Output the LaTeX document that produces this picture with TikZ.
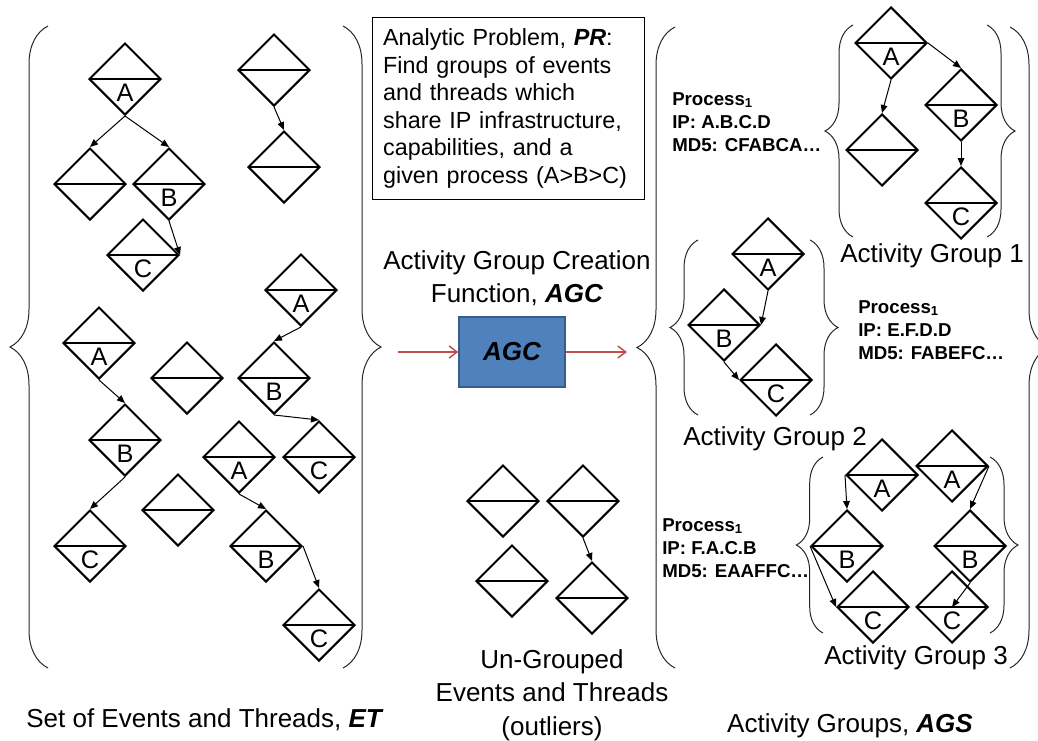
\documentclass[tikz,border=0pt]{standalone}
\usepackage{fontspec}
\setmainfont{Liberation Sans}
\usepackage{xcolor}
\usepackage{tikz}
\definecolor{agcblue}{RGB}{79,129,189}
\definecolor{agcborder}{RGB}{56,93,138}
\definecolor{flowred}{RGB}{192,80,77}
\usetikzlibrary{shapes.geometric,arrows.meta,positioning,decorations.pathreplacing}

\begin{document}
\begin{tikzpicture}[
    x=0.75pt, y=-0.75pt,
    event/.style={diamond, draw, line width=1.5pt, minimum width=54pt, minimum height=54pt, inner sep=0pt, path picture={\draw[line width=1.5pt] (path picture bounding box.west) -- (path picture bounding box.east);}, label={[font=\fontsize{19}{19}\selectfont, yshift=-10.5pt]center:#1}},
    event/.default={},
    caption/.style={font=\fontsize{19.5}{25}\selectfont, inner sep=0pt},
    process/.style={font=\fontsize{14}{17.5}\selectfont\bfseries, align=left, anchor=west, inner sep=0pt},
    link/.style={-{Triangle[length=6pt,width=5pt]}, line width=0.75pt},
    flow/.style={-{Straight Barb[length=6pt,width=9pt]}, draw=flowred, line width=1.1pt},
    curly/.style={decorate, decoration={brace, amplitude=#1}, line width=0.75pt, draw=black!85}
]
\useasboundingbox (0,0) rectangle (1038,740);

% Set of Events and Threads
\node[event=A] (a1) at (125,79) {};
\node[event] (x1) at (90,184) {};
\node[event=B] (b1) at (169,184) {};
\node[event=C] (c1) at (143,255) {};
\node[event] (e1) at (274,70) {};
\node[event] (e2) at (284,167) {};
\node[event=A] (a2) at (301,290) {};
\node[event=B] (b2) at (274,378) {};
\node[event=C] (c2) at (319,457) {};
\node[event=A] (a3) at (99,343) {};
\node[event=B] (b3) at (125,440) {};
\node[event=C] (c3) at (90,546) {};
\node[event=A] (a4) at (239,457) {};
\node[event=B] (b4) at (266,546) {};
\node[event=C] (c4) at (319,625) {};
\node[event] (x2) at (187,378) {};
\node[event] (x3) at (178,510) {};

\draw[link] (a1.south) -- (x1.north);
\draw[link] (a1.south) -- (b1.north);
\draw[link] (b1.south) -- (c1.east);
\draw[link] (e1.south) -- (e2.north);
\draw[link] (a2.south) -- (b2.north);
\draw[link] (b2.south) -- (c2.north);
\draw[link] (a3.south) -- (b3.north);
\draw[link] (b3.south) -- (c3.north);
\draw[link] (a4.south) -- (b4.north);
\draw[link] (b4.east) -- (c4.north);

\draw[curly=28.5pt] (48,668) -- (48,26);
\draw[curly=28.5pt] (343,26) -- (343,668);
\node[caption, anchor=base] (etcap) at (205,727) {Set of Events and Threads, \textbf{\textit{ET}}};

% Analytic problem and creation function
\node[draw, line width=0.75pt, anchor=north west, text width=188pt, minimum height=136.5pt, inner sep=8pt, align=left, font=\fontsize{17.5}{20.7}\selectfont] (pr) at (372,17) {Analytic Problem, \textbf{\textit{PR}}:\\Find groups of events\\and threads which\\share IP infrastructure,\\capabilities, and a\\given process (A>B>C)};
\node[caption, align=center] (agctitle) at (517,278) {Activity Group Creation\\Function, \textbf{\textit{AGC}}};
\node[draw=agcborder, fill=agcblue, line width=1.1pt, minimum width=79.5pt, minimum height=52.5pt, font=\fontsize{19.5}{24}\selectfont\bfseries\itshape] (agc) at (512,352) {AGC};
\coordinate (agcin) at (398,352);
\coordinate (agcout) at (627,352);
\draw[flow] (agcin) -- (agc);
\draw[flow] (agc) -- (agcout);

% Un-grouped events and threads
\node[event] (u1) at (503,501) {};
\node[event] (u2) at (583,501) {};
\node[event] (u3) at (512,581) {};
\node[event] (u4) at (592,598) {};
\draw[link] (u2.south) -- (u4.north);
\node[caption, align=center] (ungrouped) at (552,695) {Un-Grouped\\Events and Threads\\(outliers)};

% Activity Group 1
\node[event=A] (g1a) at (891,43) {};
\node[event] (g1x) at (882,150) {};
\node[event=B] (g1b) at (961,105) {};
\node[event=C] (g1c) at (961,203) {};
\draw[link] (g1a.south) -- (g1x.north);
\draw[link] (g1a.east) -- (g1b.north);
\draw[link] (g1b.south) -- (g1c.north);
\draw[curly=21pt] (853,237) -- (853,25);
\draw[curly=21pt] (987,25) -- (987,237);
\node[caption, anchor=base] (g1cap) at (932,262) {Activity Group 1};
\node[process] (g1proc) at (672,122) {Process\textsubscript{1}\\IP: A.B.C.D\\MD5: CFABCA…};

% Activity Group 2
\node[event=A] (g2a) at (768,254) {};
\node[event=B] (g2b) at (724,325) {};
\node[event=C] (g2c) at (776,380) {};
\draw[link] (g2a.south) -- (g2b.east);
\draw[link] (g2b.south) -- (g2c.west);
\draw[curly=21pt] (698,415) -- (698,240);
\draw[curly=21pt] (810,240) -- (810,415);
\node[caption, anchor=base] (g2cap) at (775,445) {Activity Group 2};
\node[process] (g2proc) at (858,330) {Process\textsubscript{1}\\IP: E.F.D.D\\MD5: FABEFC…};

% Activity Group 3
\node[event=A] (g3a1) at (882,475) {};
\node[event=A] (g3a2) at (952,466) {};
\node[event=B] (g3b1) at (847,546) {};
\node[event=B] (g3b2) at (970,546) {};
\node[event=C] (g3c1) at (873,607) {};
\node[event=C] (g3c2) at (952,607) {};
\draw[link] (g3a1.west) -- (g3b1.north);
\draw[link] (g3a2.east) -- (g3b2.north);
\draw[link] (g3b1.west) -- (g3c1.west);
\draw[link] (g3b2.south) -- (g3c2.center);
\draw[curly=20pt] (823,633) -- (823,457);
\draw[curly=21pt] (990,457) -- (990,633);
\node[caption, anchor=base] (g3cap) at (916,664) {Activity Group 3};
\node[process] (g3proc) at (662,548) {Process\textsubscript{1}\\IP: F.A.C.B\\MD5: EAAFFC…};

% Activity Groups
\draw[curly=28.5pt] (675,668) -- (675,27);
\draw[curly=28.5pt] (1010,27) -- (1010,668);
\node[caption, anchor=base] (agscap) at (850,732) {Activity Groups, \textbf{\textit{AGS}}};

\end{tikzpicture}
\end{document}
